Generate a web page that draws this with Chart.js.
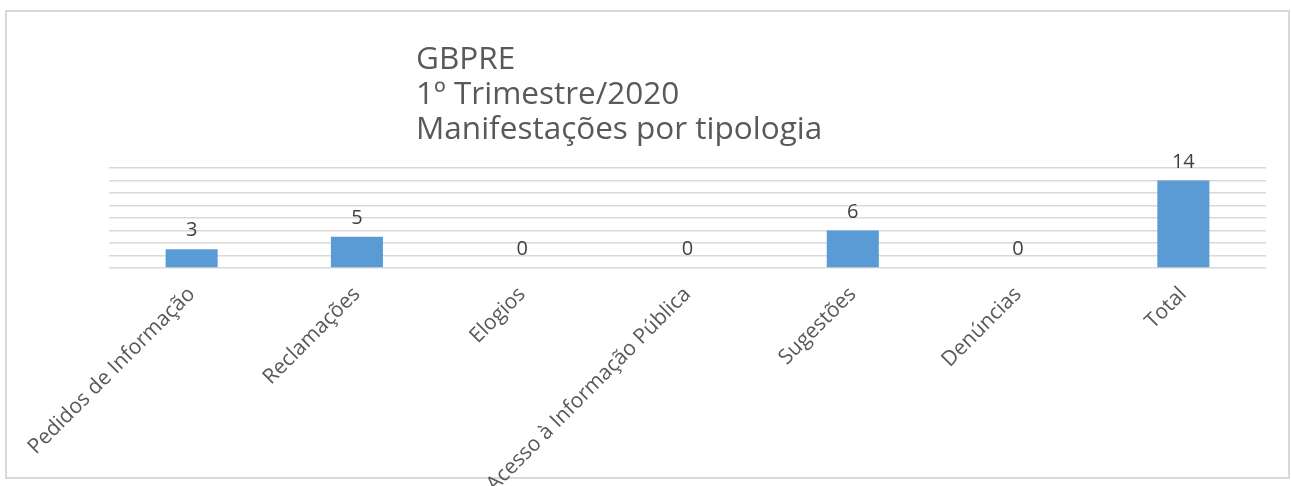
<!DOCTYPE html>
<html>
<head>
<meta charset="utf-8">
<script src="https://cdn.jsdelivr.net/npm/chart.js@4.4.0/dist/chart.umd.min.js"></script>
<style>
  html, body { margin: 0; padding: 0; background: #fff; }
  #wrap { width: 1292px; height: 486px; }
</style>
</head>
<body>
<div id="wrap"><canvas id="chart" width="1292" height="486"></canvas></div>
<script>
const categories = ['Pedidos de Informação', 'Reclamações', 'Elogios', 'Acesso à Informação Pública', 'Sugestões', 'Denúncias', 'Total'];
const values = [3, 5, 0, 0, 6, 0, 14];
const titleLines = ['GBPRE', '1º Trimestre/2020', 'Manifestações por tipologia'];

const FONT = '"Open Sans", sans-serif';

// moldura cinzenta + título
const framePlugin = {
  id: 'frame',
  beforeDraw(chart) {
    const ctx = chart.ctx;
    ctx.save();
    ctx.fillStyle = '#fff';
    ctx.fillRect(0, 0, chart.width, chart.height);
    ctx.strokeStyle = '#d9d9d9';
    ctx.lineWidth = 2;
    ctx.strokeRect(6, 11, chart.width - 9, chart.height - 19);
    ctx.restore();
  },
  afterDraw(chart) {
    const ctx = chart.ctx;
    ctx.save();
    ctx.fillStyle = '#595959';
    ctx.font = '31.5px ' + FONT;
    ctx.textBaseline = 'alphabetic';
    titleLines.forEach((line, i) => {
      ctx.fillText(line, 416, 69 + i * 35);
    });
    ctx.restore();
  }
};

// valores por cima das barras
const valueLabels = {
  id: 'valueLabels',
  afterDatasetsDraw(chart) {
    const ctx = chart.ctx;
    const meta = chart.getDatasetMeta(0);
    ctx.save();
    ctx.fillStyle = '#404040';
    ctx.font = '20px ' + FONT;
    ctx.textAlign = 'center';
    ctx.textBaseline = 'alphabetic';
    meta.data.forEach((bar, i) => {
      ctx.fillText(String(values[i]), bar.x, bar.y - 13);
    });
    ctx.restore();
  }
};

new Chart(document.querySelector('#chart'), {
  type: 'bar',
  data: {
    labels: categories,
    datasets: [{
      data: values,
      backgroundColor: '#5b9bd5',
      borderWidth: 0,
      categoryPercentage: 1,
      barPercentage: 0.315
    }]
  },
  options: {
    responsive: false,
    animation: false,
    layout: { padding: { left: 109, right: 26, top: 168, bottom: 0 } },
    plugins: {
      legend: { display: false },
      title: { display: false },
      tooltip: { enabled: false }
    },
    scales: {
      x: {
        grid: { display: false, drawTicks: false },
        border: { display: false },
        ticks: {
          autoSkip: false,
          maxRotation: 45,
          minRotation: 45,
          padding: 14,
          color: '#595959',
          font: { family: FONT, size: 21 }
        },
        afterFit(scale) { scale.height = 218; }
      },
      y: {
        min: 0,
        max: 16,
        ticks: { stepSize: 2, display: false },
        grid: { color: '#d9d9d9', lineWidth: 1.5, drawTicks: false },
        border: { display: false }
      }
    }
  },
  plugins: [framePlugin, valueLabels]
});
</script>
</body>
</html>
